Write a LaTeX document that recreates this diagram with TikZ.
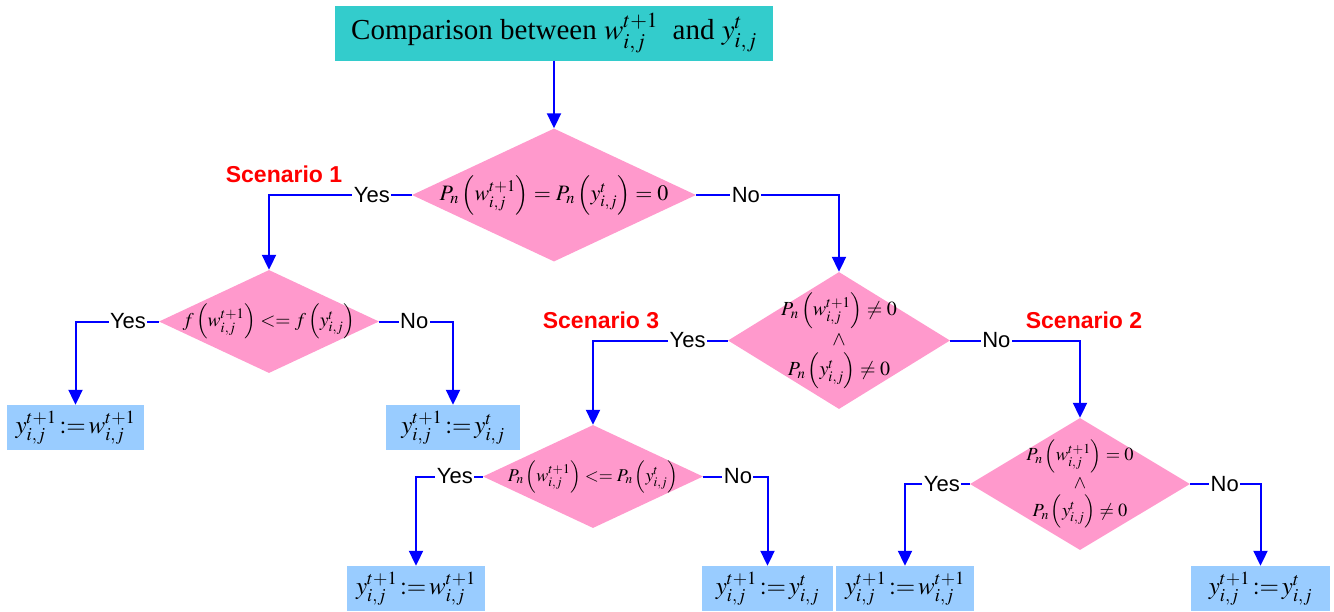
\documentclass[tikz,border=0pt]{standalone}
\IfFileExists{mathptmx.sty}{\usepackage{mathptmx}}{\usepackage{fix-cm}}
\usepackage[no-math]{fontspec}
\setmainfont{Liberation Serif}
\newfontfamily\labelfont{Liberation Sans}
\usetikzlibrary{shapes.geometric,arrows.meta}

\definecolor{headteal}{RGB}{51,204,204}
\definecolor{decpink}{RGB}{255,153,204}
\definecolor{resblue}{RGB}{153,204,255}

\tikzset{
  headbox/.style={rectangle, fill=headteal, inner sep=0pt, font=\fontsize{29}{34}\selectfont},
  decision/.style={diamond, fill=decpink, inner sep=0pt},
  result/.style={rectangle, fill=resblue, inner sep=0pt, minimum height=45pt, font=\fontsize{25}{30}\selectfont},
  flow/.style={blue, line width=2pt, -{Triangle[length=15pt,width=14pt]}},
  answer/.style={fill=white, inner sep=1.5pt, text=black, font=\labelfont\fontsize{22}{26}\selectfont},
  scenario/.style={text=red, font=\labelfont\bfseries\fontsize{23}{27}\selectfont},
}

\begin{document}
\begin{tikzpicture}[x=1pt, y=-1pt]
    \useasboundingbox (0,0) rectangle (1334,611);

    \node[headbox, minimum width=438pt, minimum height=55pt] (head) at (554,33)
        {Comparison between $w_{i,j}^{t+1}$\enspace and $y_{i,j}^{t}$};

    % decisions
    \node[decision, minimum width=284pt, minimum height=133pt,
        label={[font=\fontsize{22}{26}\selectfont]center:$P_n\left(w_{i,j}^{t+1}\right)=P_n\left(y_{i,j}^{t}\right)=0$}] (d1) at (554,195) {};
    \node[decision, minimum width=220pt, minimum height=103pt,
        label={[font=\fontsize{19.5}{23}\selectfont]center:$f\left(w_{i,j}^{t+1}\right)<=f\left(y_{i,j}^{t}\right)$}] (d2) at (269,321.5) {};
    \node[decision, minimum width=222pt, minimum height=137pt,
        label={[font=\fontsize{20}{24}\selectfont]center:$\begin{array}{c}P_n\left(w_{i,j}^{t+1}\right)\neq 0\\ \wedge\\ P_n\left(y_{i,j}^{t}\right)\neq 0\end{array}$}] (d3) at (839,340.5) {};
    \node[decision, minimum width=220pt, minimum height=103pt,
        label={[font=\fontsize{18}{22}\selectfont]center:$P_n\left(w_{i,j}^{t+1}\right)<=P_n\left(y_{i,j}^{t}\right)$}] (d4) at (593,476.5) {};
    \node[decision, minimum width=220pt, minimum height=132pt,
        label={[font=\fontsize{18.5}{22}\selectfont]center:$\begin{array}{c}P_n\left(w_{i,j}^{t+1}\right)=0\\ \wedge\\ P_n\left(y_{i,j}^{t}\right)\neq 0\end{array}$}] (d5) at (1080,484) {};

    % results
    \node[result, minimum width=137pt] (r1) at (75.5,427.5) {$y_{i,j}^{t+1}\,{:=}\,w_{i,j}^{t+1}$};
    \node[result, minimum width=134pt] (r2) at (453,427.5) {$y_{i,j}^{t+1}\,{:=}\,y_{i,j}^{t}$};
    \node[result, minimum width=138pt] (r3) at (416,588.5) {$y_{i,j}^{t+1}\,{:=}\,w_{i,j}^{t+1}$};
    \node[result, minimum width=131pt] (r4) at (767.5,588.5) {$y_{i,j}^{t+1}\,{:=}\,y_{i,j}^{t}$};
    \node[result, minimum width=138pt] (r5) at (905,588.5) {$y_{i,j}^{t+1}\,{:=}\,w_{i,j}^{t+1}$};
    \node[result, minimum width=139pt] (r6) at (1260.5,588.5) {$y_{i,j}^{t+1}\,{:=}\,y_{i,j}^{t}$};

    \node[scenario] (sc1) at (284,174) {Scenario 1};
    \node[scenario] (sc3) at (601,320) {Scenario 3};
    \node[scenario] (sc2) at (1084,320) {Scenario 2};

    % connectors
    \draw[flow] (head) -- (d1);
    \draw[flow] (d1.west) -| node[answer, pos=0.14] (y1) {Yes} (d2.north);
    \draw[flow] (d1.east) -| node[answer, pos=0.174] (n1) {No} (d3.north);
    \draw[flow] (d2.west) -| node[answer, pos=0.185] (y2) {Yes} (r1.north);
    \draw[flow] (d2.east) -| node[answer, pos=0.237] (n2) {No} (r2.north);
    \draw[flow] (d3.west) -| node[answer, pos=0.149] (y3) {Yes} (d4.north);
    \draw[flow] (d3.east) -| node[answer, pos=0.178] (n3) {No} (d5.north);
    \draw[flow] (d4.west) -| node[answer, pos=0.209] (y4) {Yes} (r3.north);
    \draw[flow] (d4.east) -| node[answer, pos=0.27] (n4) {No} (r4.north);
    \draw[flow] (d5.west) -| node[answer, pos=0.216] (y5) {Yes} (r5.north);
    \draw[flow] (d5.east) -| node[answer, pos=0.246] (n5) {No} (r6.north);
\end{tikzpicture}
\end{document}
